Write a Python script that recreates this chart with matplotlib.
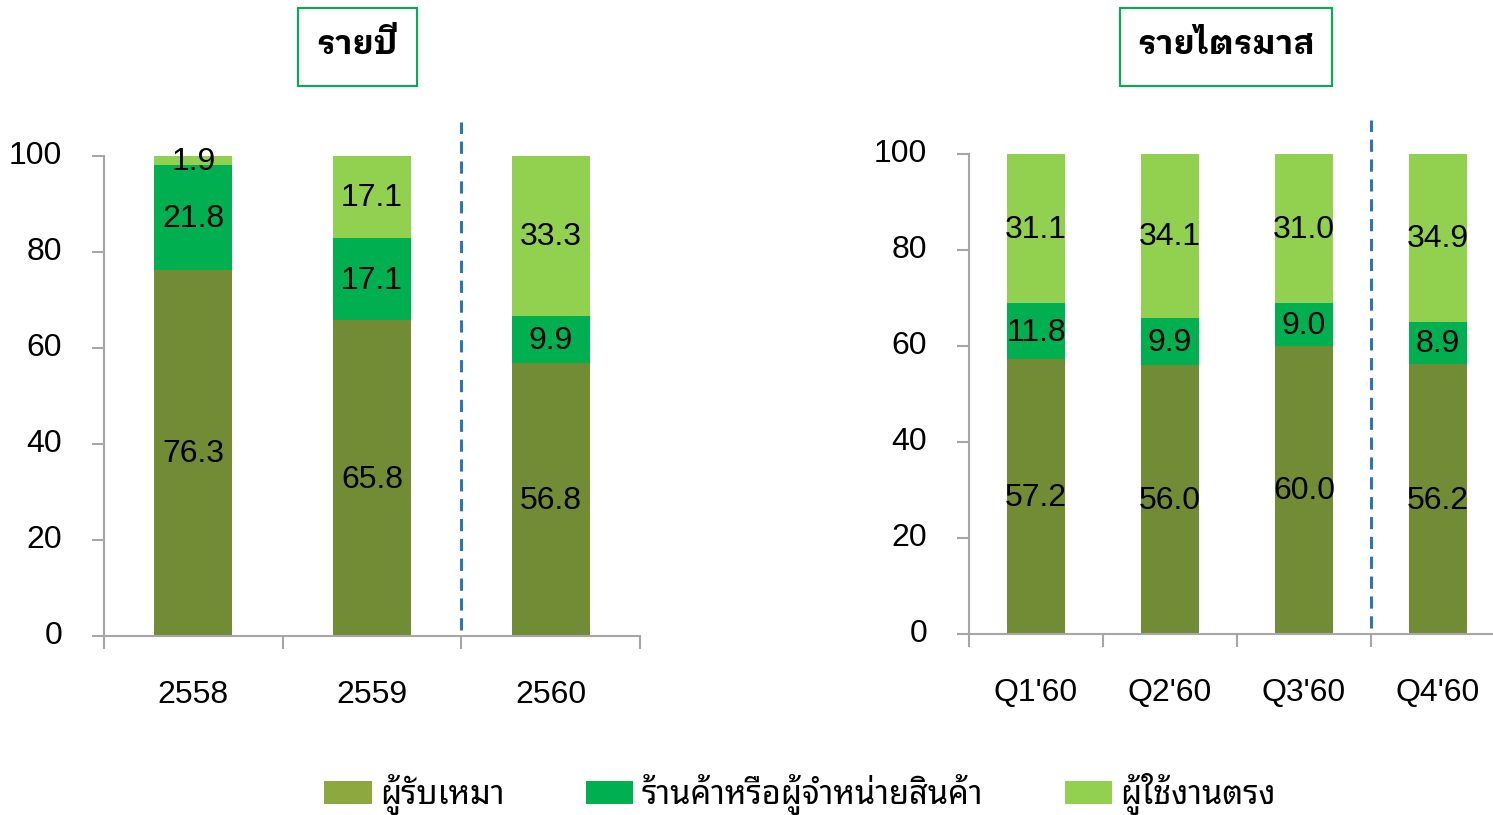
import numpy as np
import matplotlib
matplotlib.use("Agg")
import matplotlib.pyplot as plt
from matplotlib import font_manager
from matplotlib.patches import Patch, Rectangle
from matplotlib.transforms import ScaledTranslation

# data
years = ["2558", "2559", "2560"]
y_contractor = [76.3, 65.8, 56.8]
y_shop = [21.8, 17.1, 9.9]
y_direct = [1.9, 17.1, 33.3]

quarters = ["Q1'60", "Q2'60", "Q3'60", "Q4'60"]
q_contractor = [57.2, 56.0, 60.0, 56.2]
q_shop = [11.8, 9.9, 9.0, 8.9]
q_direct = [31.1, 34.1, 31.0, 34.9]

series_names = ["ผู้รับเหมา", "ร้านค้าหรือผู้จำหน่ายสินค้า", "ผู้ใช้งานตรง"]
titles = ["รายปี", "รายไตรมาส"]
yticks = [0, 20, 40, 60, 80, 100]

colors = ["#728C35", "#00B050", "#92D050"]
legend_colors = ["#8DA83E", "#00B050", "#92D050"]

# pick a font that has Thai glyphs (prefer one with a real bold face)
fl = font_manager.fontManager.ttflist
installed = set(f.name for f in fl)
cands = ["Noto Sans Thai Looped", "Noto Sans Thai", "IBM Plex Sans Thai Looped",
         "Sarabun", "Anuphan", "Bai Jamjuree"]
thai_font = next((n for n in cands if n in installed), "DejaVu Sans")
bold_font = next((n for n in cands
                  if any(f.name == n and isinstance(f.weight, int) and f.weight >= 600 for f in fl)),
                 thai_font)
num_font = "Liberation Sans"
plt.rcParams["font.family"] = [num_font, "DejaVu Sans"]

W, H = 1493, 815
fig = plt.figure(figsize=(W / 100, H / 100), dpi=100)


def fx(px):
    return px / W


def fy(px):
    return 1 - px / H


def draw(ax, cats, a, b, c, split):
    x = np.arange(len(cats))
    a, b, c = np.array(a), np.array(b), np.array(c)
    bw = 0.435
    ax.bar(x, a, bw, color=colors[0], zorder=2)
    ax.bar(x, b, bw, bottom=a, color=colors[1], zorder=2)
    ax.bar(x, c, bw, bottom=a + b, color=colors[2], zorder=2)
    for i in range(len(cats)):
        for v, base in [(a[i], 0), (b[i], a[i]), (c[i], a[i] + b[i])]:
            ax.text(x[i], base + v / 2 - 0.3, "%.1f" % v, ha="center", va="center",
                    fontsize=23, color="black", zorder=3)
    ax.set_xlim(-0.5, len(cats) - 0.5)
    ax.set_ylim(0, 100)
    ax.set_yticks(yticks)
    ax.set_xticks(x)
    ax.set_xticklabels(cats)
    ax.set_xticks(np.arange(len(cats) + 1) - 0.5, minor=True)
    for s in ["top", "right"]:
        ax.spines[s].set_visible(False)
    for s in ["left", "bottom"]:
        ax.spines[s].set_color("#A6A6A6")
        ax.spines[s].set_linewidth(1.5)
    ax.tick_params(axis="y", length=9, width=1.5, color="#A6A6A6", pad=21, labelsize=23)
    ax.tick_params(axis="x", which="major", length=0, pad=32, labelsize=23)
    ax.tick_params(axis="x", which="minor", length=9, width=1.5, color="#A6A6A6")
    up = ScaledTranslation(0, 3 / 100, fig.dpi_scale_trans)
    for lab in ax.get_yticklabels():
        lab.set_transform(lab.get_transform() + up)
    ax.axvline(split, ymin=0.012, ymax=1.071, color="#2E75B6", lw=2.2,
               ls=(0, (4, 2.5)), clip_on=False, zorder=1)


ax1 = fig.add_axes([fx(104), fy(636), fx(640 - 104), (636 - 156) / H])
draw(ax1, years, y_contractor, y_shop, y_direct, 1.5)

ax2 = fig.add_axes([fx(969), fy(634), fx(1505 - 969), (634 - 154) / H])
draw(ax2, quarters, q_contractor, q_shop, q_direct, 2.5)

# title boxes
for (x0, x1), t in zip([(298, 417), (1120, 1332)], titles):
    fig.patches.append(Rectangle((fx(x0), fy(86)), fx(x1 - x0), (86 - 8) / H,
                                 transform=fig.transFigure, fill=False,
                                 edgecolor="#00B050", lw=1.5))
    fig.text(fx((x0 + x1) / 2), fy(45), t, ha="center", va="center",
             fontsize=24, fontweight="bold", family=[bold_font, "DejaVu Sans"])

handles = [Patch(facecolor=c, edgecolor="none") for c in legend_colors]
fig.legend(handles, series_names, loc="center", bbox_to_anchor=(fx(800), fy(794)),
           ncol=3, frameon=False, handlelength=1.45, handleheight=0.7,
           handletextpad=0.25, columnspacing=2.5,
           prop={"family": [thai_font, "DejaVu Sans"], "size": 23.5})

fig.savefig("out.png", dpi=100)
